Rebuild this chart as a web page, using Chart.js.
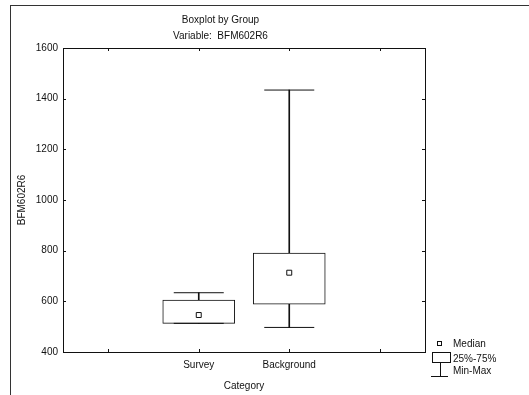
<!DOCTYPE html>
<html>
<head>
<meta charset="utf-8">
<script src="https://cdn.jsdelivr.net/npm/chart.js@4"></script>
<style>
  html, body { margin: 0; padding: 0; background: #fff; }
  body { width: 529px; height: 395px; position: relative; overflow: hidden; font-family: "Liberation Sans", Arial, sans-serif; color: #111; }
  #frame { position: absolute; left: 10px; top: 5px; width: 519px; height: 390px; border-left: 1px solid #333; border-top: 1px solid #333; box-sizing: border-box; }
  #wrap { position: absolute; left: 10px; top: 5px; width: 424px; height: 390px; }
  .leg { position: absolute; font-size: 10px; line-height: 12px; white-space: nowrap; }
  .sym { position: absolute; border: 1px solid #111; box-sizing: border-box; background: #fff; }
  .ln { position: absolute; background: #111; }
</style>
</head>
<body>
<div id="frame"></div>
<div id="wrap"><canvas id="boxChart"></canvas></div>

<!-- legend -->
<div class="sym" style="left:437px;top:341px;width:5px;height:5px;"></div>
<div class="leg" style="left:453px;top:338px;">Median</div>
<div class="sym" style="left:432px;top:352px;width:19px;height:11px;"></div>
<div class="leg" style="left:453px;top:353px;">25%-75%</div>
<div class="ln" style="left:440px;top:363px;width:1px;height:13px;"></div>
<div class="ln" style="left:431px;top:376px;width:17px;height:1px;"></div>
<div class="leg" style="left:453px;top:365px;">Min-Max</div>

<script>
const categories = ['', 'Survey', 'Background', ''];
const minValues = [null, 513, 497, null];
const q1Values = [null, 513, 589, null];
const medianValues = [null, 546, 713, null];
const q3Values = [null, 605, 790, null];
const maxValues = [null, 634, 1434, null];
const yTicks = [400, 600, 800, 1000, 1200, 1400, 1600];

const ink = '#111';
Chart.defaults.font.family = '"Liberation Sans", Arial, sans-serif';
Chart.defaults.font.size = 10;
Chart.defaults.color = ink;

const pairs = (lo, hi) => lo.map((v, i) => (v === null ? null : [v, hi[i]]));
// no marker size on the empty edge slots, so the layout keeps its padding
const sizes = (vals, r) => vals.map(v => (v === null ? 0 : r));

// plot frame plus small inward ticks
const framePlugin = {
  id: 'framePlugin',
  afterDatasetsDraw(chart) {
    const { ctx, chartArea: a, scales } = chart;
    ctx.save();
    ctx.strokeStyle = ink;
    ctx.lineWidth = 1;
    ctx.strokeRect(a.left + 0.5, a.top + 0.5, a.right - a.left, a.bottom - a.top);
    ctx.beginPath();
    scales.y.ticks.forEach((t, i) => {
      const y = Math.round(scales.y.getPixelForTick(i)) + 0.5;
      ctx.moveTo(a.left, y); ctx.lineTo(a.left + 3, y);
      ctx.moveTo(a.right, y); ctx.lineTo(a.right - 3, y);
    });
    scales.x.ticks.forEach((t, i) => {
      const x = Math.round(scales.x.getPixelForTick(i)) + 0.5;
      ctx.moveTo(x, a.bottom); ctx.lineTo(x, a.bottom - 3);
      ctx.moveTo(x, a.top); ctx.lineTo(x, a.top + 3);
    });
    ctx.stroke();
    ctx.restore();
  }
};

new Chart(document.getElementById('boxChart'), {
  type: 'bar',
  data: {
    labels: categories,
    datasets: [
      {
        label: 'lower whisker',
        data: pairs(minValues, q1Values),
        backgroundColor: ink,
        borderWidth: 0,
        barThickness: 1,
        grouped: false,
        order: 5
      },
      {
        label: 'upper whisker',
        data: pairs(q3Values, maxValues),
        backgroundColor: ink,
        borderWidth: 0,
        barThickness: 1,
        grouped: false,
        order: 5
      },
      {
        label: '25%-75%',
        data: pairs(q1Values, q3Values),
        backgroundColor: '#fff',
        borderColor: ink,
        borderWidth: 1,
        borderSkipped: false,
        barThickness: 72,
        grouped: false,
        order: 4
      },
      {
        type: 'line',
        label: 'Max',
        data: maxValues,
        showLine: false,
        pointStyle: 'line',
        pointRadius: sizes(maxValues, 25),
        borderColor: ink,
        borderWidth: 1,
        order: 3
      },
      {
        type: 'line',
        label: 'Min',
        data: minValues,
        showLine: false,
        pointStyle: 'line',
        pointRadius: sizes(minValues, 25),
        borderColor: ink,
        borderWidth: 1,
        order: 3
      },
      {
        type: 'line',
        label: 'Median',
        data: medianValues,
        showLine: false,
        pointStyle: 'rect',
        pointRadius: sizes(medianValues, 3.5),
        backgroundColor: '#fff',
        borderColor: ink,
        borderWidth: 1,
        order: 1
      }
    ]
  },
  options: {
    responsive: true,
    maintainAspectRatio: false,
    animation: false,
    events: [],
    layout: { padding: { left: 6, right: 9, top: 0, bottom: 0 } },
    plugins: {
      legend: { display: false },
      tooltip: { enabled: false },
      title: {
        display: true,
        text: 'Boxplot by Group',
        font: { size: 10, weight: 'normal' },
        color: ink,
        padding: { top: 9, bottom: 2 }
      },
      subtitle: {
        display: true,
        text: 'Variable:  BFM602R6',
        font: { size: 10 },
        color: ink,
        padding: { top: 2, bottom: 6 }
      }
    },
    scales: {
      x: {
        type: 'category',
        offset: true,
        grid: { display: false, drawTicks: false },
        border: { display: false },
        ticks: { padding: 7, color: ink, font: { size: 10 } },
        title: { display: true, text: 'Category', color: ink, font: { size: 10 }, padding: { top: 0, bottom: 3 } },
        afterFit(scale) { scale.height = 43; }
      },
      y: {
        min: 400,
        max: 1600,
        afterBuildTicks(scale) { scale.ticks = yTicks.map(v => ({ value: v })); },
        grid: { display: false, drawTicks: false },
        border: { display: false },
        ticks: { padding: 5, color: ink, font: { size: 10 }, callback: v => String(v) },
        title: { display: true, text: 'BFM602R6', color: ink, font: { size: 10 }, padding: { top: 0, bottom: 0 } },
        afterFit(scale) { scale.width = 47; }
      }
    }
  },
  plugins: [framePlugin]
});
</script>
</body>
</html>
